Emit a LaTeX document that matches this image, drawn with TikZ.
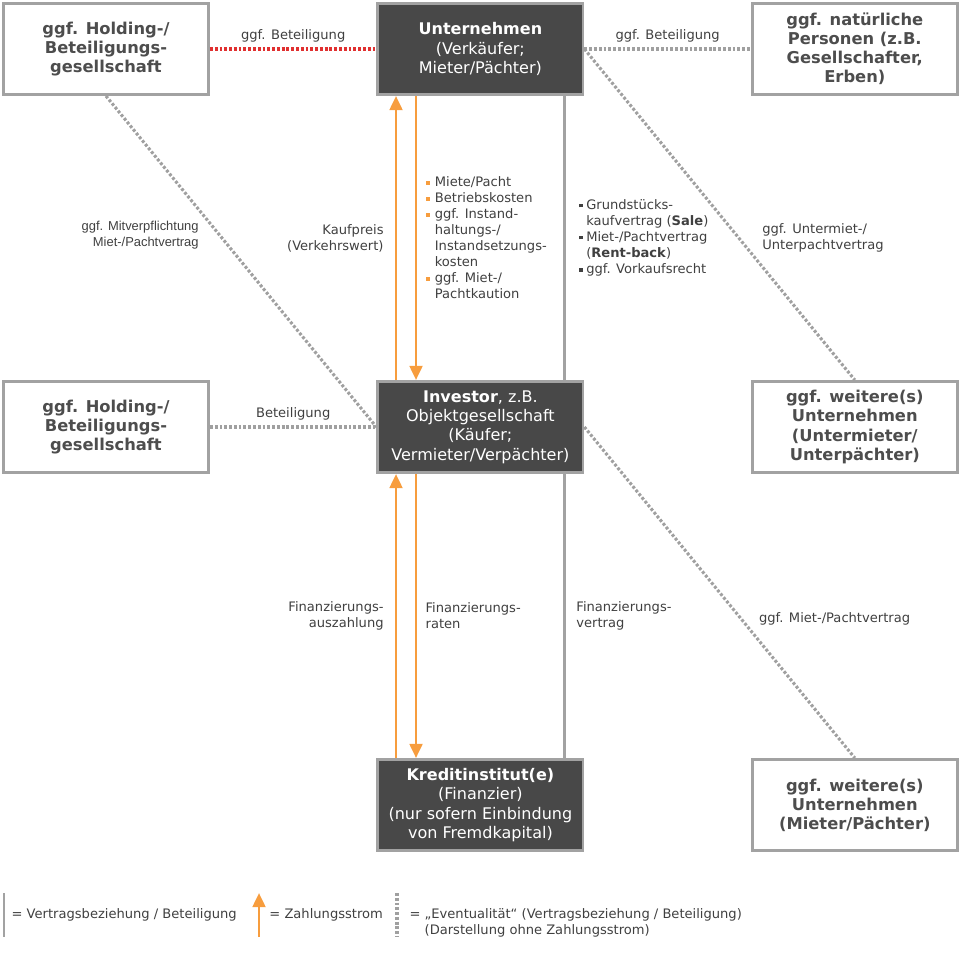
\documentclass[tikz,border=0pt]{standalone}
\usepackage{xcolor}
\usepackage{fontspec}
\setmainfont{DejaVu Sans}
\newfontfamily\arialish{Liberation Sans}
\usepackage{tikz}
\usetikzlibrary{positioning,arrows.meta}

\definecolor{boxdark}{RGB}{72,72,72}
\definecolor{boxline}{RGB}{162,162,162}
\definecolor{boxtext}{RGB}{77,77,77}
\definecolor{lbltext}{RGB}{64,64,64}
\definecolor{payorange}{RGB}{247,157,62}
\definecolor{dotred}{RGB}{224,48,48}
\definecolor{dotgrey}{RGB}{160,160,160}

\tikzset{
	lightbox/.style={draw=boxline, line width=2pt, fill=white, text=boxtext, minimum width=5.13cm, minimum height=2.28cm, align=center, font=\fontsize{11.6}{13.6}\selectfont\bfseries},
	darkbox/.style={lightbox, fill=boxdark, text=white, font=\fontsize{11.4}{13.8}\selectfont},
	rel/.style={draw=boxline, line width=2pt},
	pay/.style={draw=payorange, line width=2pt, -{Triangle[width=9pt,length=10pt]}},
	maybe/.style={draw=dotgrey, line width=2.2pt, dash pattern=on 2pt off 1.4pt},
	maybered/.style={maybe, draw=dotred},
	lbl/.style={text=lbltext, font=\fontsize{9.3}{11.4}\selectfont, inner sep=3pt},
}
\newcommand{\obul}{\makebox[6pt][l]{\textcolor{payorange}{\rule[0.3ex]{2.8pt}{2.8pt}}}}
\newcommand{\oind}{\hspace*{6pt}}
\newcommand{\gbul}{\makebox[5pt][l]{\textcolor{lbltext}{\rule[0.3ex]{2.4pt}{2.4pt}}}}
\newcommand{\gind}{\hspace*{5pt}}

\begin{document}
\begin{tikzpicture}
	\useasboundingbox (0,0) rectangle (24,-24);
	\node[darkbox] (unt) at (12.01,-1.225) {\textbf{Unternehmen}\\(Verkäufer;\\Mieter/Pächter)};
	\node[lightbox, left=4.16cm of unt] (hold) {ggf. Holding-/\\Beteiligungs-\\gesellschaft};
	\node[lightbox, right=4.16cm of unt] (pers) {ggf. natürliche\\Personen (z.B.\\Gesellschafter,\\Erben)};
	\node[darkbox, below=7.1cm of unt] (inv) {\textbf{Investor}, z.B.\\Objektgesellschaft\\(Käufer;\\Vermieter/Verpächter)};
	\node[lightbox, left=4.16cm of inv] (hold2) {ggf. Holding-/\\Beteiligungs-\\gesellschaft};
	\node[lightbox, right=4.16cm of inv] (sub) {ggf. weitere(s)\\Unternehmen\\(Untermieter/\\Unterpächter)};
	\node[darkbox, below=7.1cm of inv] (bank) {\textbf{Kreditinstitut(e)}\\(Finanzier)\\(nur sofern Einbindung\\von Fremdkapital)};
	\node[lightbox, right=4.16cm of bank] (ten) {ggf. weitere(s)\\Unternehmen\\(Mieter/Pächter)};

	\draw[maybered] (hold) -- (unt) node[lbl, midway, above=1pt] (l1) {ggf. Beteiligung};
	\draw[maybe] (unt) -- (pers) node[lbl, midway, above=1pt] (l2) {ggf. Beteiligung};
	\draw[maybe] (hold2) -- (inv) node[lbl, midway, above=1pt] (l3) {Beteiligung};
	\draw[maybe] (hold.south) -- (inv.west) node[lbl, pos=0.42, left=0.38cm, align=right, font=\arialish\fontsize{9.2}{11.4}\selectfont] (l4) {ggf. Mitverpflichtung\\Miet-/Pachtvertrag};
	\draw[maybe] (unt.east) -- (sub.north) node[lbl, pos=0.57, right=0.45cm, align=left] (l5) {ggf. Untermiet-/\\Unterpachtvertrag};
	\draw[maybe] (inv.east) -- (ten.north) node[lbl, pos=0.58, right=0.3cm] (l6) {ggf. Miet-/Pachtvertrag};

	\draw[rel] ([xshift=2.11cm]unt.south) -- ([xshift=2.11cm]inv.north) node[lbl, midway, right=0.22cm, align=left] (l7) {\gbul Grundstücks-\\\gind kaufvertrag (\textbf{Sale})\\\gbul Miet-/Pachtvertrag\\\gind(\textbf{Rent-back})\\\gbul ggf. Vorkaufsrecht};
	\draw[pay] ([xshift=-2.11cm]inv.north) -- ([xshift=-2.11cm]unt.south) node[lbl, midway, left=0.17cm, align=right] (l8) {Kaufpreis\\(Verkehrswert)};
	\draw[pay] ([xshift=-1.61cm]unt.south) -- ([xshift=-1.61cm]inv.north) node[lbl, midway, right=0.12cm, align=left] (l9) {\obul Miete/Pacht\\\obul Betriebskosten\\\obul ggf. Instand-\\\oind haltungs-/\\\oind Instandsetzungs-\\\oind kosten\\\obul ggf. Miet-/\\\oind Pachtkaution};

	\draw[rel] ([xshift=2.11cm]inv.south) -- ([xshift=2.11cm]bank.north) node[lbl, midway, right=0.15cm, align=left] (l10) {Finanzierungs-\\vertrag};
	\draw[pay] ([xshift=-2.11cm]bank.north) -- ([xshift=-2.11cm]inv.south) node[lbl, midway, left=0.17cm, align=right] (l11) {Finanzierungs-\\auszahlung};
	\draw[pay] ([xshift=-1.61cm]inv.south) -- ([xshift=-1.61cm]bank.north) node[lbl, midway, right=0.1cm, align=left] (l12) {Finanzierungs-\\raten};

	\coordinate (lv1) at (0.1,-22.325);
	\coordinate (lv2) at (0.1,-23.425);
	\coordinate (la1) at (6.475,-23.425);
	\coordinate (la2) at (6.475,-22.325);
	\coordinate (ld1) at (9.925,-22.325);
	\coordinate (ld2) at (9.925,-23.425);
	\draw[rel] (lv1) -- (lv2) node[lbl, midway, right=0.05cm] (lg1) {= Vertragsbeziehung / Beteiligung};
	\draw[pay] (la1) -- (la2) node[lbl, midway, right=0.12cm] (lg2) {= Zahlungsstrom};
	\draw[maybe] (ld1) -- (ld2) node[lbl, midway, right=0.17cm, yshift=-0.2cm, align=left] (lg3) {= „Eventualität“ (Vertragsbeziehung / Beteiligung)\\\hphantom{= }(Darstellung ohne Zahlungsstrom)};
\end{tikzpicture}
\end{document}
